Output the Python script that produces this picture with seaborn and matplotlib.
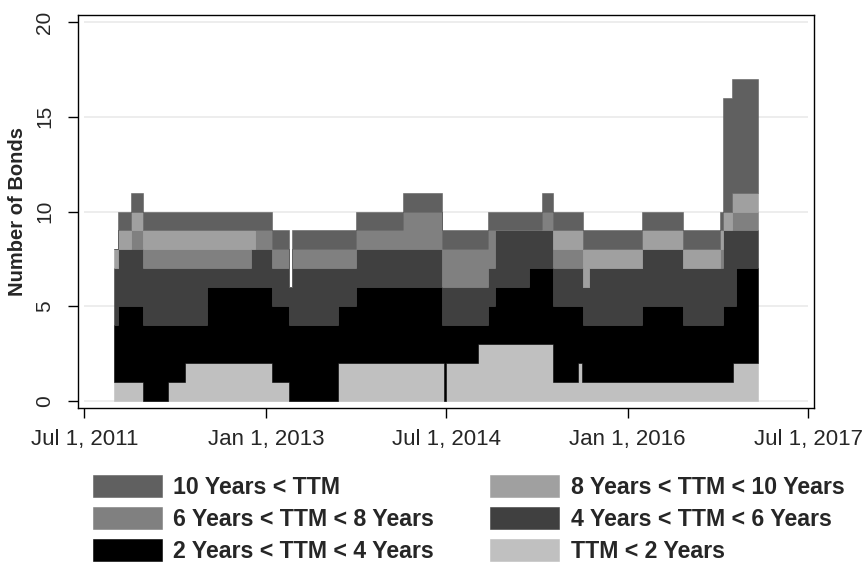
import numpy as np
import pandas as pd
import matplotlib
matplotlib.use('Agg')
import matplotlib.pyplot as plt
import seaborn as sns

# change points (date where the bond counts per TTM bucket change); last row closes the series
dates = ['2011-09-28', '2011-10-10', '2011-11-18', '2011-12-25', '2012-03-09', '2012-04-30',
         '2012-07-06', '2012-11-16', '2012-11-28', '2013-01-19', '2013-03-12', '2013-03-20',
         '2013-08-06', '2013-10-02', '2014-02-20', '2014-06-17', '2014-06-23', '2014-07-01',
         '2014-10-04', '2014-11-04', '2014-11-25', '2015-03-08', '2015-04-16', '2015-05-20',
         '2015-08-05', '2015-08-15', '2015-08-19', '2015-09-05', '2016-02-14', '2016-06-17',
         '2016-10-07', '2016-10-16', '2016-11-12', '2016-11-16', '2016-11-26', '2017-01-30']
ttm_lt2 = [1, 1, 1, 0, 1, 2, 2, 2, 2, 1, 0, 0, 2, 2, 2, 2, 0, 2,
           3, 3, 3, 3, 3, 1, 2, 1, 1, 1, 1, 1, 1, 1, 1, 2, 2, 2]
ttm_2_4 = [3, 4, 4, 4, 3, 2, 4, 4, 4, 4, 4, 4, 3, 4, 4, 2, 4, 2,
           1, 2, 3, 4, 4, 4, 3, 4, 3, 3, 4, 3, 3, 4, 4, 3, 5, 5]
ttm_4_6 = [3, 3, 3, 3, 3, 3, 1, 2, 2, 2, 2, 3, 2, 2, 2, 2, 2, 2,
           2, 2, 3, 2, 2, 2, 2, 2, 2, 3, 3, 3, 3, 4, 4, 4, 2, 2]
ttm_6_8 = [0, 0, 1, 1, 1, 1, 1, 0, 1, 1, 0, 1, 1, 1, 2, 2, 2, 2,
           2, 2, 0, 0, 1, 1, 1, 1, 0, 0, 0, 0, 1, 0, 1, 1, 1, 1]
ttm_8_10 = [1, 1, 1, 1, 1, 1, 1, 1, 0, 0, 0, 0, 0, 0, 0, 0, 0, 0,
            0, 0, 0, 0, 0, 1, 1, 1, 2, 1, 1, 1, 1, 1, 1, 1, 1, 1]
ttm_gt10 = [0, 1, 1, 1, 1, 1, 1, 1, 1, 1, 0, 1, 1, 1, 1, 1, 1, 1,
            1, 1, 1, 1, 1, 1, 1, 1, 1, 1, 1, 1, 1, 6, 6, 6, 6, 6]

labels = ['TTM < 2 Years', '2 Years < TTM < 4 Years', '4 Years < TTM < 6 Years',
          '6 Years < TTM < 8 Years', '8 Years < TTM < 10 Years', '10 Years < TTM']
colors = ['#c0c0c0', '#000000', '#404040', '#808080', '#a0a0a0', '#606060']

xtick_dates = ['2011-07-01', '2013-01-01', '2014-07-01', '2016-01-01', '2017-07-01']
xtick_labels = ['Jul 1, 2011', 'Jan 1, 2013', 'Jul 1, 2014', 'Jan 1, 2016', 'Jul 1, 2017']
yticks = [0, 5, 10, 15, 20]

sns.set_style('white')
plt.rcParams['font.family'] = ['Liberation Sans', 'DejaVu Sans']

df = pd.DataFrame({'lt2': ttm_lt2, 't2_4': ttm_2_4, 't4_6': ttm_4_6,
                   't6_8': ttm_6_8, 't8_10': ttm_8_10, 'gt10': ttm_gt10},
                  index=pd.to_datetime(dates))

fig = plt.figure(figsize=(8.65, 5.63), dpi=100)
ax = fig.add_axes([0.0896, 0.2753, 0.8515, 0.698])

# light grid lines across the date range
ax.hlines(yticks, pd.Timestamp(xtick_dates[0]), pd.Timestamp(xtick_dates[-1]),
          color='#ececec', lw=1.3, zorder=0)

handles = {}
lower = np.zeros(len(df))
for col, lab, c in zip(df.columns, labels, colors):
    upper = lower + df[col].values
    handles[lab] = ax.fill_between(df.index, lower, upper, step='post', color=c,
                                   lw=0.4, edgecolor=c, label=lab, zorder=2)
    lower = upper

ax.set_xlim(pd.Timestamp('2011-06-10'), pd.Timestamp('2017-07-19'))
ax.set_ylim(-0.37, 20.37)

ax.set_xticks(pd.to_datetime(xtick_dates))
ax.set_xticklabels(xtick_labels, fontsize=16)
ax.set_yticks(yticks)
ax.set_yticklabels([str(v) for v in yticks], fontsize=15, rotation=90, va='center')
ax.tick_params(axis='x', bottom=True, direction='out', length=7, width=1, pad=8, color='black')
ax.tick_params(axis='y', left=True, direction='out', length=7, width=1, pad=10, color='black')

for sp in ax.spines.values():
    sp.set_color('black')
    sp.set_linewidth(1)

fig.text(18 / 865, 1 - 211 / 563, 'Number of Bonds', rotation=90, ha='center', va='center',
         fontsize=14.5, fontweight='bold')

# legend: two columns, row-major order as in the original
order = ['10 Years < TTM', '6 Years < TTM < 8 Years', '2 Years < TTM < 4 Years',
         '8 Years < TTM < 10 Years', '4 Years < TTM < 6 Years', 'TTM < 2 Years']
fig.legend([handles[k] for k in order], order, ncol=2, loc='upper left',
           bbox_to_anchor=(93 / 865, 1 - 475 / 563), frameon=False, borderpad=0,
           borderaxespad=0, handlelength=2.97, handleheight=1.05, handletextpad=0.5,
           columnspacing=2.4, labelspacing=0.36, prop={'weight': 'bold', 'size': 16.7})

fig.savefig('out.png', dpi=100)
